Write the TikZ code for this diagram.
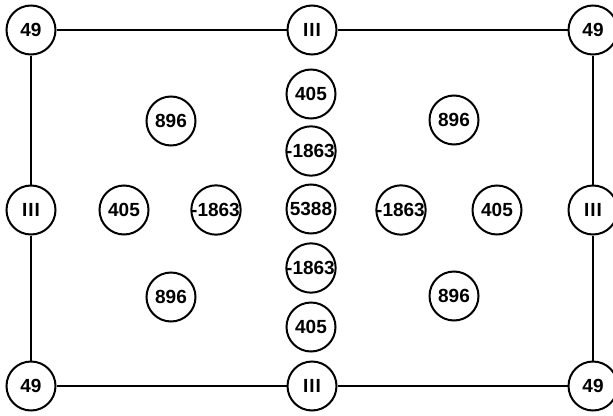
\documentclass[tikz,border=0pt]{standalone}
\usepackage{fontspec}
\setmainfont{Liberation Sans}
\begin{document}
\begin{tikzpicture}[x=1pt,y=-1pt,
  val/.style={circle,draw,line width=2pt,minimum size=49pt,inner sep=0pt,
    font=\fontsize{19}{19}\selectfont\bfseries},
  conn/.style={line width=1.6pt}]
\useasboundingbox (0,0) rectangle (613,415);
% frame nodes
\node[val] (tl) at (31,30) {49};
\node[val] (tm) at (312,30) {I\kern1ptI\kern1ptI};
\node[val] (tr) at (593,30) {49};
\node[val] (ml) at (31,210) {I\kern1ptI\kern1ptI};
\node[val] (mr) at (593,210) {I\kern1ptI\kern1ptI};
\node[val] (bl) at (31,386) {49};
\node[val] (bm) at (312,386) {I\kern1ptI\kern1ptI};
\node[val] (br) at (593,386) {49};
% central column
\node[val] (c1) at (311,94) {405};
\node[val] (c2) at (311,151) {\kern-1pt-1863};
\node[val] (c3) at (311,209) {5388};
\node[val] (c4) at (311,268) {\kern-1pt-1863};
\node[val] (c5) at (311,327) {405};
% left group
\node[val] (l1) at (171,121) {896};
\node[val] (l2) at (124,210) {405};
\node[val] (l3) at (216,210) {\kern-1pt-1863};
\node[val] (l4) at (171,297) {896};
% right group
\node[val] (r1) at (454,120) {896};
\node[val] (r2) at (401,210) {\kern-1pt-1863};
\node[val] (r3) at (497,210) {405};
\node[val] (r4) at (454,296) {896};
% connectors
\draw[conn] (tl) -- (tm);
\draw[conn] (tm) -- (tr);
\draw[conn] (bl) -- (bm);
\draw[conn] (bm) -- (br);
\draw[conn] (tl) -- (ml);
\draw[conn] (ml) -- (bl);
\draw[conn] (tr) -- (mr);
\draw[conn] (mr) -- (br);
\end{tikzpicture}
\end{document}
